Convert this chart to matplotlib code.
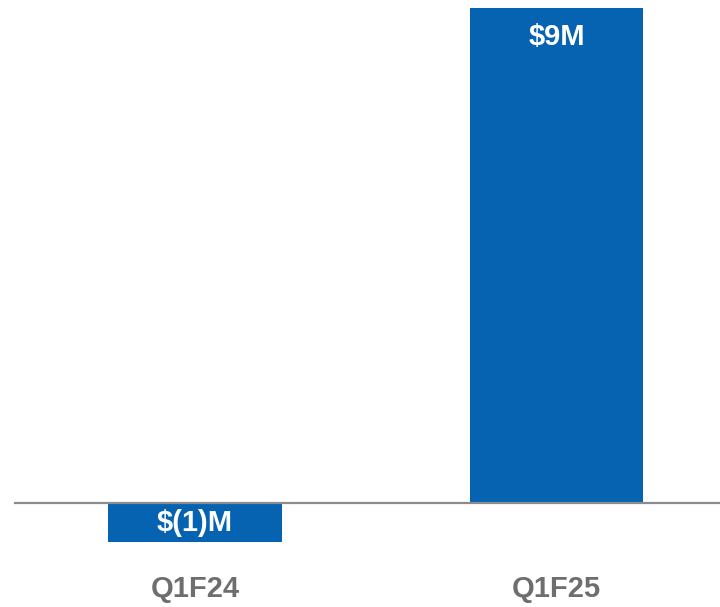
import matplotlib.pyplot as plt

categories = ['Q1F24', 'Q1F25']
values = [-0.7, 9.0]
value_labels = ['$(1)M', '$9M']

bar_color = '#0563B2'
label_color = '#6E6E6E'

plt.rcParams['font.family'] = ['Liberation Sans', 'DejaVu Sans']

fig = plt.figure(figsize=(7.2, 6.07), dpi=100)
ax = fig.add_axes([0, 0, 1, 1])

x = list(range(len(categories)))
ax.bar(x, values, width=0.48, color=bar_color, zorder=2)
ax.axhline(0, xmin=15 / 720, xmax=1, color='#8C8C8C', linewidth=1.6, zorder=3)

# value labels inside the bars
for xi, v, lab in zip(x, values, value_labels):
    y = v / 2 if v < 0 else v - 0.52
    ax.text(xi, y, lab, ha='center', va='center', color='white',
            fontsize=21, fontweight='bold', zorder=4)

# category labels under the axis
for xi, cat in zip(x, categories):
    ax.text(xi, -1.55, cat, ha='center', va='center', color=label_color,
            fontsize=21, fontweight='bold')

ax.set_xlim(-0.539, 1.452)
ax.set_ylim(-1.88, 9.145)
ax.axis('off')

fig.savefig('out.png', dpi=100)
